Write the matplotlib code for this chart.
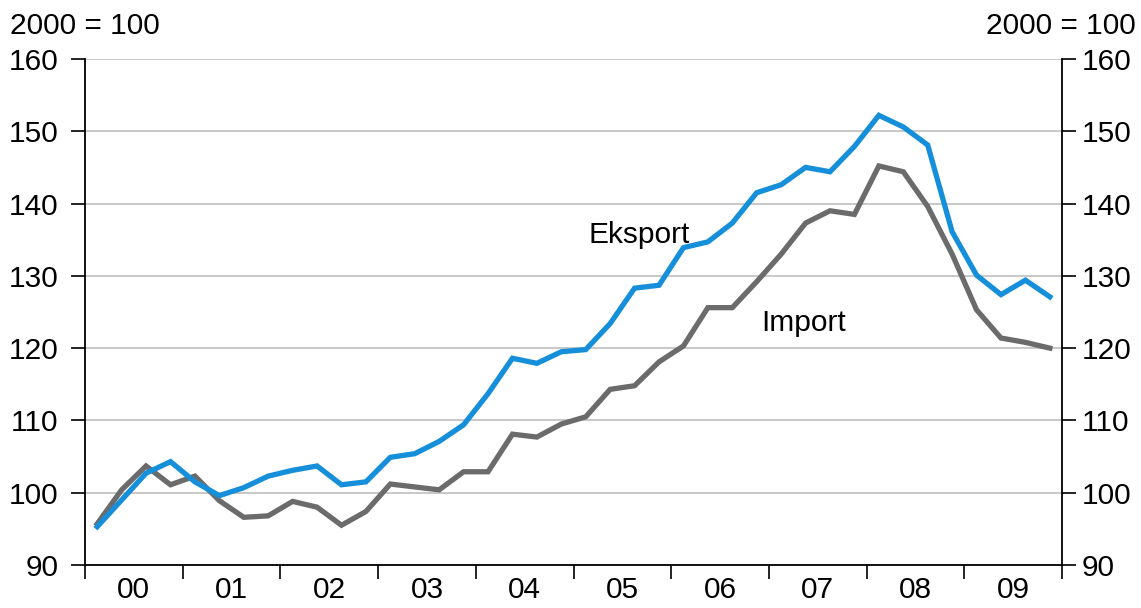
import matplotlib
matplotlib.use("Agg")
import matplotlib.pyplot as plt
import numpy as np

plt.rcParams['font.family'] = ['Liberation Sans', 'DejaVu Sans']

# Quarterly index, 2000 = 100, 2000Q1 - 2009Q4
years = ["00", "01", "02", "03", "04", "05", "06", "07", "08", "09"]
eksport = [95.3, 99.0, 102.7, 104.3, 101.5, 99.6, 100.7, 102.3,
           103.1, 103.7, 101.1, 101.5, 104.9, 105.4, 107.1, 109.4,
           113.7, 118.6, 117.9, 119.5, 119.8, 123.4, 128.3, 128.7,
           133.9, 134.7, 137.3, 141.5, 142.6, 145.0, 144.4, 147.9,
           152.2, 150.6, 148.1, 136.1, 130.1, 127.4, 129.4, 127.1]
importv = [95.7, 100.4, 103.7, 101.1, 102.3, 98.9, 96.6, 96.8,
           98.8, 98.0, 95.5, 97.4, 101.2, 100.8, 100.4, 102.9,
           102.9, 108.1, 107.7, 109.5, 110.5, 114.3, 114.8, 118.1,
           120.3, 125.6, 125.6, 129.2, 133.0, 137.3, 139.0, 138.5,
           145.2, 144.4, 139.6, 133.0, 125.3, 121.4, 120.8, 120.0]

BLUE = "#168fda"
GREY = "#6b6b6b"
FS = 21.5

fig = plt.figure(figsize=(11.41, 6.08), dpi=100)
ax = fig.add_axes([0.0745, 0.0707, 0.8563, 0.8323])

x = np.arange(len(eksport)) + 0.5
ax.plot(x, importv, color=GREY, lw=3.8, solid_joinstyle="miter")
ax.plot(x, eksport, color=BLUE, lw=3.8, solid_joinstyle="miter")

ax.set_xlim(0, 40)
ax.set_ylim(90, 160)
ax.set_yticks(np.arange(90, 161, 10))
ax.grid(axis="y", color="#c4c4c4", lw=1.3)
ax.set_axisbelow(True)

ax.set_xticks(np.arange(0, 41, 4))
ax.set_xticklabels([])
ax.set_xticks(np.arange(2, 40, 4), minor=True)
ax.set_xticklabels(years, minor=True)
ax.tick_params(axis="x", which="major", length=10, width=1.2, direction="out")
ax.tick_params(axis="x", which="minor", length=0, pad=8, labelsize=FS)
ax.tick_params(axis="y", length=10, width=1.2, direction="out", labelsize=FS, pad=9)

for s in ["left", "right", "bottom"]:
    ax.spines[s].set_linewidth(1.3)
ax.spines["top"].set_visible(False)

ax2 = ax.twinx()
ax2.set_ylim(90, 160)
ax2.set_yticks(np.arange(90, 161, 10))
ax2.tick_params(axis="y", length=10, width=1.2, direction="out", labelsize=FS, pad=4)
for s in ["left", "right", "bottom", "top"]:
    ax2.spines[s].set_visible(False)

ax.text(20.6, 133.7, "Eksport", fontsize=FS, ha="left", va="bottom")
ax.text(27.7, 121.5, "Import", fontsize=FS, ha="left", va="bottom")

fig.text(0.009, 0.957, "2000 = 100", fontsize=FS, ha="left", va="center")
fig.text(0.995, 0.957, "2000 = 100", fontsize=FS, ha="right", va="center")

fig.savefig("out.png", dpi=100)
